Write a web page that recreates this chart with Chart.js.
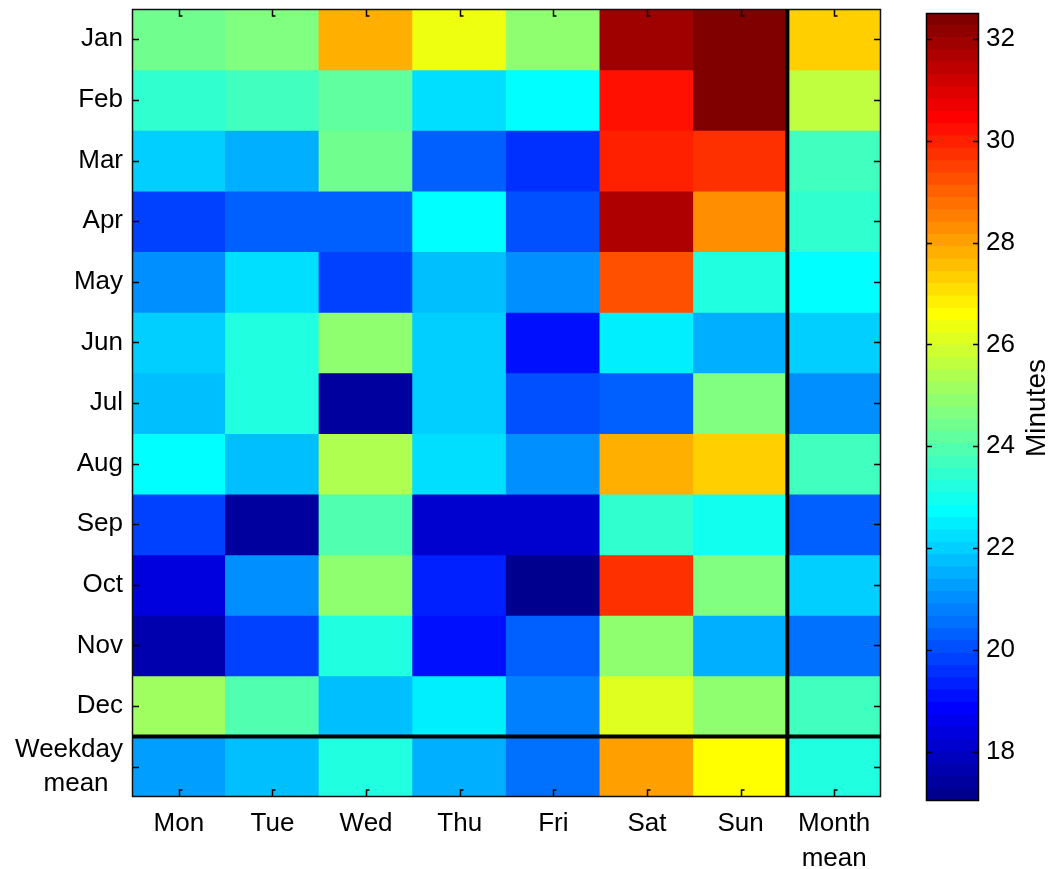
<!DOCTYPE html>
<html><head><meta charset="utf-8">
<script src="https://cdn.jsdelivr.net/npm/chart.js@4.4.0/dist/chart.umd.min.js"></script>
<style>
html,body{margin:0;padding:0;background:#fff;}
#wrap{position:relative;width:1055px;height:869px;overflow:hidden;}
#main{position:absolute;left:0;top:0;}
#cbar{position:absolute;left:900px;top:0;}
</style></head><body>
<div id="wrap">
<canvas id="main" width="900" height="869"></canvas>
<canvas id="cbar" width="155" height="869"></canvas>
</div>
<script>
// ---- data ----
const columns = ['Mon', 'Tue', 'Wed', 'Thu', 'Fri', 'Sat', 'Sun', ['Month', 'mean']];
const rowLabels = ['Jan', 'Feb', 'Mar', 'Apr', 'May', 'Jun', 'Jul', 'Aug', 'Sep', 'Oct', 'Nov', 'Dec', ['Weekday', 'mean  ']];
// values (minutes) per row: Mon..Sun, Month mean
const jan = [24.41, 24.65, 27.80, 26.35, 24.89, 31.91, 32.39, 27.31];
const feb = [23.44, 23.68, 24.17, 22.23, 22.72, 30.22, 32.39, 25.62];
const mar = [21.99, 21.51, 24.41, 20.30, 19.57, 29.98, 29.73, 23.68];
const apr = [19.81, 20.30, 20.30, 22.72, 20.05, 31.67, 28.28, 23.44];
const may = [21.02, 22.23, 19.81, 21.75, 21.02, 29.25, 23.20, 22.72];
const jun = [21.99, 23.20, 24.89, 21.99, 19.09, 22.47, 21.51, 21.99];
const jul = [21.75, 23.20, 17.39, 21.99, 20.05, 20.30, 24.65, 21.02];
const aug = [22.72, 21.75, 25.38, 22.23, 21.02, 27.80, 27.31, 23.68];
const sep = [19.81, 17.39, 23.93, 18.12, 18.12, 23.44, 22.96, 20.30];
const oct = [18.36, 21.02, 24.89, 19.33, 17.15, 29.73, 24.65, 21.99];
const nov = [17.63, 19.81, 23.20, 19.09, 20.30, 24.89, 21.51, 20.54];
const dec = [25.14, 23.93, 21.75, 22.47, 20.78, 26.10, 24.89, 23.68];
const weekdayMean = [21.26, 21.75, 23.20, 21.51, 20.54, 28.04, 26.59, 23.20];
const rows = [jan, feb, mar, apr, may, jun, jul, aug, sep, oct, nov, dec, weekdayMean];
const colorLimits = [17.03, 32.51];
const colorbarTicks = [18, 20, 22, 24, 26, 28, 30, 32];
const colorbarTitle = 'Minutes';

// ---- MATLAB jet(64) colormap ----
function jet(m) {
  const n = Math.ceil(m / 4);
  const u = [];
  for (let k = 1; k <= n; k++) u.push(k / n);
  for (let k = 0; k < n - 1; k++) u.push(1);
  for (let k = n; k >= 1; k--) u.push(k / n);
  const g0 = Math.ceil(n / 2) - (m % 4 === 1 ? 1 : 0);
  const J = Array.from({length: m}, () => [0, 0, 0]);
  for (let k = 0; k < u.length; k++) {
    const g = g0 + k + 1, r = g + n, b = g - n;
    if (r >= 1 && r <= m) J[r - 1][0] = u[k];
    if (g >= 1 && g <= m) J[g - 1][1] = u[k];
    if (b >= 1 && b <= m) J[b - 1][2] = u[k];
  }
  return J.map(c => `rgb(${Math.round(c[0]*255)},${Math.round(c[1]*255)},${Math.round(c[2]*255)})`);
}
const cmap = jet(64);
function colorFor(v) {
  let i = Math.floor((v - colorLimits[0]) / (colorLimits[1] - colorLimits[0]) * cmap.length);
  i = Math.max(0, Math.min(cmap.length - 1, i));
  return cmap[i];
}

const FONT = {family: '"Liberation Sans", Arial, sans-serif', size: 26, lineHeight: 1.32};

// ---- main heatmap ----
const datasets = rows.map((vals, r) => ({
  label: Array.isArray(rowLabels[r]) ? rowLabels[r].join(' ').trim() : rowLabels[r],
  data: vals.map(() => [r, r + 1]),
  backgroundColor: vals.map(colorFor),
  borderWidth: 0,
  inflateAmount: 0.6,
  grouped: false,
  barPercentage: 1,
  categoryPercentage: 1
}));

const framePlugin = {
  id: 'frame',
  afterDatasetsDraw(chart) {
    const {ctx, chartArea: a, scales: {x, y}} = chart;
    ctx.save();
    ctx.strokeStyle = '#000';
    ctx.lineWidth = 1.5;
    const tl = 7;
    ctx.beginPath();
    y.ticks.forEach(t => {
      const py = Math.round(y.getPixelForValue(t.value)) + 0.5;
      ctx.moveTo(a.left, py); ctx.lineTo(a.left + tl, py);
      ctx.moveTo(a.right, py); ctx.lineTo(a.right - tl, py);
    });
    x.ticks.forEach((t, i) => {
      const px = Math.round(x.getPixelForValue(i)) + 0.5;
      ctx.moveTo(px, a.top); ctx.lineTo(px, a.top + tl); ctx.lineTo(px + 3, a.top + tl);
      ctx.moveTo(px, a.bottom); ctx.lineTo(px, a.bottom - tl); ctx.lineTo(px + 3, a.bottom - tl);
    });
    ctx.stroke();
    // axes box
    ctx.strokeStyle = '#111';
    ctx.strokeRect(a.left + 0.5, a.top + 0.5, a.right - a.left - 1, a.bottom - a.top - 1);
    // separator lines
    ctx.lineWidth = 4;
    ctx.strokeStyle = '#000';
    ctx.beginPath();
    const sx = x.getPixelForValue(6.5);
    ctx.moveTo(sx, a.top); ctx.lineTo(sx, a.bottom);
    const sy = y.getPixelForValue(12);
    ctx.moveTo(a.left, sy); ctx.lineTo(a.right, sy);
    ctx.stroke();
    ctx.restore();
  }
};

new Chart(document.getElementById('main'), {
  type: 'bar',
  data: {labels: columns, datasets},
  options: {
    responsive: false,
    animation: false,
    layout: {padding: {left: 0, top: 9, right: 19, bottom: 0}},
    plugins: {legend: {display: false}, tooltip: {enabled: false}},
    scales: {
      x: {
        type: 'category',
        offset: true,
        grid: {display: false, drawTicks: false},
        border: {display: false},
        ticks: {font: FONT, color: '#000', padding: 10, maxRotation: 0, autoSkip: false},
        afterFit: s => { s.height = 72; s.paddingLeft = 0; s.paddingRight = 0; }
      },
      y: {
        type: 'linear',
        min: 0, max: 13,
        reverse: true,
        grid: {display: false, drawTicks: false},
        border: {display: false},
        afterBuildTicks: s => { s.ticks = rowLabels.map((_, i) => ({value: i + 0.5})); },
        ticks: {font: FONT, color: '#000', padding: 9, autoSkip: false,
                callback: (v, i) => rowLabels[i]},
        afterFit: s => { s.width = 132; s.paddingTop = 0; s.paddingBottom = 0; }
      }
    }
  },
  plugins: [framePlugin]
});

// ---- colorbar ----
const step = (colorLimits[1] - colorLimits[0]) / cmap.length;
const cbDatasets = cmap.map((c, k) => ({
  data: [[colorLimits[0] + k * step, colorLimits[0] + (k + 1) * step]],
  backgroundColor: c,
  borderWidth: 0,
  inflateAmount: 0.6,
  grouped: false,
  barPercentage: 1,
  categoryPercentage: 1
}));

const cbFrame = {
  id: 'cbframe',
  afterDatasetsDraw(chart) {
    const {ctx, chartArea: a, scales: {y}} = chart;
    ctx.save();
    ctx.strokeStyle = '#000';
    ctx.lineWidth = 1.5;
    ctx.beginPath();
    y.ticks.forEach(t => {
      const py = Math.round(y.getPixelForValue(t.value)) + 0.5;
      ctx.moveTo(a.left, py); ctx.lineTo(a.left + 6, py);
      ctx.moveTo(a.right, py); ctx.lineTo(a.right - 6, py);
    });
    ctx.stroke();
    ctx.strokeRect(a.left + 0.5, a.top + 0.5, a.right - a.left - 1, a.bottom - a.top - 1);
    // title
    ctx.fillStyle = '#000';
    ctx.font = '28px "Liberation Sans", Arial, sans-serif';
    ctx.textAlign = 'center';
    ctx.textBaseline = 'middle';
    ctx.translate(137, 408);
    ctx.rotate(-Math.PI / 2);
    ctx.fillText(colorbarTitle, 0, 0);
    ctx.restore();
  }
};

new Chart(document.getElementById('cbar'), {
  type: 'bar',
  data: {labels: [''], datasets: cbDatasets},
  options: {
    responsive: false,
    animation: false,
    layout: {padding: {left: 26, top: 13, right: 0, bottom: 68}},
    plugins: {legend: {display: false}, tooltip: {enabled: false}},
    scales: {
      x: {display: false, offset: true},
      y: {
        type: 'linear',
        position: 'right',
        min: colorLimits[0], max: colorLimits[1],
        grid: {display: false, drawTicks: false},
        border: {display: false},
        afterBuildTicks: s => { s.ticks = colorbarTicks.map(v => ({value: v})); },
        ticks: {font: FONT, color: '#000', padding: 7},
        afterFit: s => { s.width = 76; s.paddingTop = 0; s.paddingBottom = 0; }
      }
    }
  },
  plugins: [cbFrame]
});
</script>
</body></html>
